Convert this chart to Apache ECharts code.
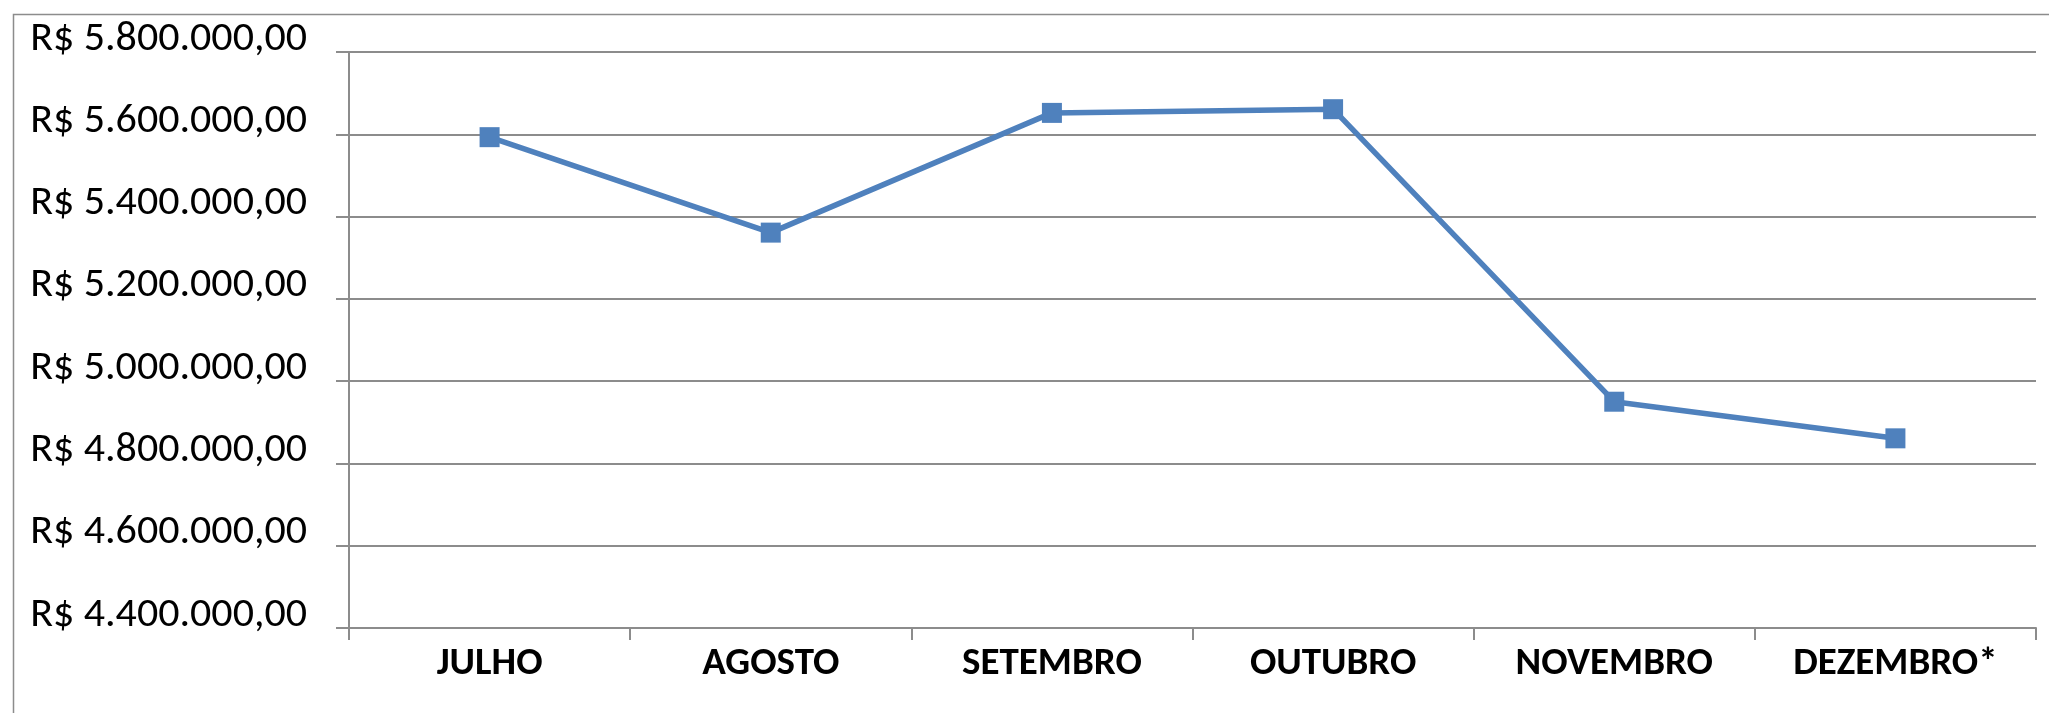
<!DOCTYPE html>
<html>
<head>
<meta charset="utf-8">
<script src="https://cdn.jsdelivr.net/npm/echarts@6/dist/echarts.min.js"></script>
<style>
html,body{margin:0;padding:0;background:#fff;}
#chart{width:2049px;height:713px;}
</style>
</head>
<body>
<div id="chart"></div>
<script>
const categories = ['JULHO', 'AGOSTO', 'SETEMBRO', 'OUTUBRO', 'NOVEMBRO', 'DEZEMBRO*'];
const values = [5593000, 5361000, 5652000, 5661000, 4950000, 4861000];
const yMin = 4400000;
const yMax = 5800000;
const yStep = 200000;

function brl(v) {
  const s = Math.round(v).toString().replace(/\B(?=(\d{3})+(?!\d))/g, '.');
  return 'R$ ' + s + ',00';
}

const chart = echarts.init(document.getElementById('chart'), null, {renderer: 'canvas'});
const fontFam = "Carlito, 'Liberation Sans', Arial, sans-serif";
chart.setOption({
  animation: false,
  backgroundColor: '#ffffff',
  graphic: [{
    type: 'rect',
    left: 11, top: 12,
    shape: {width: 2100, height: 800},
    style: {fill: 'none', stroke: '#8c8c8c', lineWidth: 1.5},
    silent: true, z: -1
  }],
  grid: {left: 349, top: 52, right: 13, bottom: 85, containLabel: false},
  xAxis: {
    type: 'category',
    data: categories,
    boundaryGap: true,
    axisLine: {show: true, lineStyle: {color: '#8c8c8c', width: 2}},
    axisTick: {show: true, length: 12, inside: false, lineStyle: {color: '#8c8c8c', width: 2}},
    axisLabel: {
      color: '#000', fontSize: 39, fontWeight: 'bold', fontFamily: fontFam,
      margin: 17, interval: 0
    },
    splitLine: {show: false}
  },
  yAxis: {
    type: 'value',
    min: yMin, max: yMax, interval: yStep,
    axisLine: {show: true, lineStyle: {color: '#8c8c8c', width: 2}},
    axisTick: {show: true, length: 13, inside: false, lineStyle: {color: '#8c8c8c', width: 2}},
    axisLabel: {
      color: '#000', fontSize: 42, fontFamily: fontFam,
      margin: 42, formatter: brl,
      verticalAlign: 'bottom', lineHeight: 26
    },
    splitLine: {show: true, lineStyle: {color: '#8c8c8c', width: 2}}
  },
  series: [{
    type: 'line',
    data: values,
    symbol: 'rect',
    symbolSize: 20,
    lineStyle: {color: '#4f81bd', width: 5.5},
    itemStyle: {color: '#4f81bd'},
    z: 5
  }]
});
</script>
</body>
</html>
